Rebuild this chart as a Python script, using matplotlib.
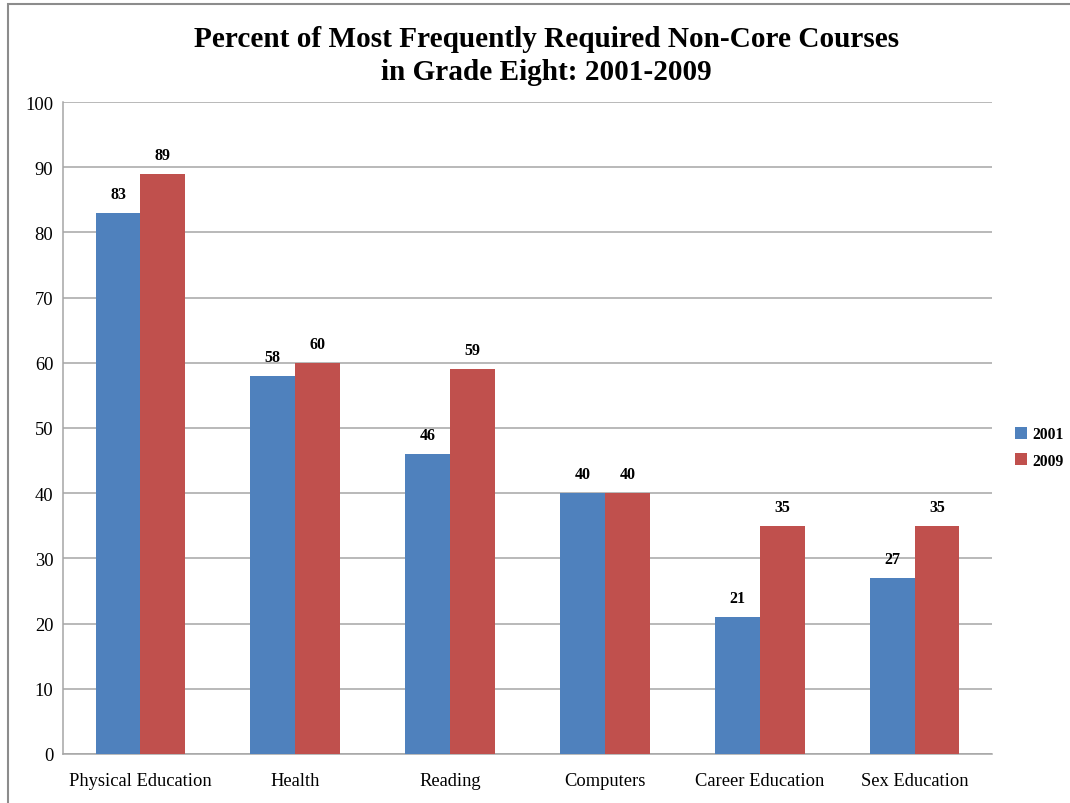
import matplotlib.pyplot as plt
import matplotlib.patches as mpatches
import numpy as np

courses = ['Physical Education', 'Health', 'Reading', 'Computers',
           'Career Education', 'Sex Education']
pct_2001 = [83, 58, 46, 40, 21, 27]
pct_2009 = [89, 60, 59, 40, 35, 35]
yticks = [0, 10, 20, 30, 40, 50, 60, 70, 80, 90, 100]

blue = '#4F81BD'
red = '#C0504D'
grid_col = '#A6A6A6'

plt.rcParams['font.family'] = ['Liberation Serif', 'DejaVu Serif']

fig = plt.figure(figsize=(10.7, 8.04), dpi=100)
# outer chart frame
fig.patches.append(mpatches.Rectangle((8 / 1070, -0.05), 1.1, 1.05 - 5 / 804,
                                      transform=fig.transFigure, fill=False,
                                      edgecolor='#8C8C8C', linewidth=1.5))
ax = fig.add_axes([63 / 1070, 49 / 804, 929 / 1070, 652 / 804])

x = np.arange(len(courses))
w = 0.29
b1 = ax.bar(x - w / 2, pct_2001, w, color=blue, label='2001', zorder=3)
b2 = ax.bar(x + w / 2, pct_2009, w, color=red, label='2009', zorder=3)

for bars in (b1, b2):
    for r in bars:
        ax.annotate(str(int(r.get_height())), (r.get_x() + r.get_width() / 2, r.get_height()),
                    xytext=(0, 8), textcoords='offset points', ha='center', va='bottom',
                    fontsize=11.5, fontweight='bold')

ax.set_xlim(-0.5, len(courses) - 0.5)
ax.set_ylim(0, 100)
ax.set_yticks(yticks)
ax.set_xticks(x)
ax.set_xticklabels(courses, fontsize=13.3)
ax.tick_params(axis='y', labelsize=13.3, length=0, pad=7)
ax.tick_params(axis='x', length=0, pad=13)
ax.yaxis.grid(True, color=grid_col, linewidth=1.1, zorder=0)
for s in ('top', 'right'):
    ax.spines[s].set_visible(False)
for s in ('left', 'bottom'):
    ax.spines[s].set_color(grid_col)
    ax.spines[s].set_linewidth(1.1)

ax.legend(loc='center left', bbox_to_anchor=(1.01, 0.47), frameon=False,
          prop={'weight': 'bold', 'size': 11.3}, handlelength=0.75, handleheight=0.75,
          handletextpad=0.3, labelspacing=0.65)

fig.text(0.511, 0.968, 'Percent of Most Frequently Required Non-Core Courses\nin Grade Eight: 2001-2009',
         ha='center', va='top', fontsize=21.1, fontweight='bold', linespacing=1.28)

plt.savefig('out.png', dpi=100)
